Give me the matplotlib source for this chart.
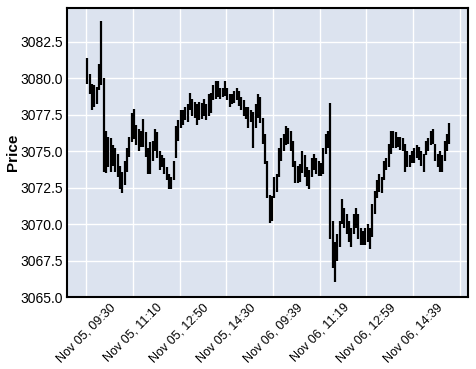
import numpy as np
import matplotlib
matplotlib.use('Agg')
import matplotlib.pyplot as plt

# 5-minute bars (high / low), Nov 05 09:30 -> Nov 06 ~16:00
highs = [
    3081.4, 3080.3, 3079.6, 3079.5, 3079.4, 3081.0, 3083.9, 3080.0, 3076.4, 3076.0,
    3075.9, 3075.4, 3075.2, 3074.8, 3074.0, 3073.6, 3074.3, 3075.2, 3076.0, 3077.6,
    3077.9, 3076.8, 3076.5, 3076.4, 3077.2, 3076.3, 3075.2, 3075.6, 3075.7, 3076.5,
    3076.3, 3075.0, 3074.7, 3074.5, 3073.9, 3073.4, 3073.2, 3074.3, 3076.7, 3077.1,
    3077.8, 3077.8, 3078.0, 3078.2, 3079.0, 3078.6, 3078.4, 3078.2, 3078.4, 3078.3,
    3078.6, 3078.2, 3078.9, 3079.0, 3079.5, 3079.8, 3079.8, 3079.3, 3079.3, 3079.8,
    3079.3, 3078.9, 3078.9, 3079.1, 3079.3, 3079.1, 3078.7, 3078.5, 3078.0, 3078.0,
    3077.8, 3077.7, 3078.2, 3078.9, 3078.7, 3077.3, 3076.2, 3074.3, 3072.0, 3071.9,
    3073.2, 3073.4, 3075.2, 3075.9, 3076.2, 3076.7, 3076.6, 3076.4, 3075.7, 3074.3,
    3074.0, 3074.1, 3075.0, 3074.7, 3073.9, 3073.7, 3074.5, 3074.8, 3074.5, 3074.3,
    3074.2, 3075.2, 3076.2, 3076.4, 3078.3, 3070.2, 3068.8, 3069.3, 3070.2, 3071.7,
    3071.1, 3070.7, 3070.2, 3069.7, 3070.7, 3071.1, 3070.7, 3069.7, 3069.5, 3069.7,
    3070.0, 3069.7, 3071.4, 3072.3, 3073.0, 3073.4, 3073.2, 3074.3, 3074.5, 3075.5,
    3076.4, 3076.4, 3076.3, 3076.0, 3076.0, 3075.9, 3075.5, 3075.0, 3074.7, 3075.0,
    3075.2, 3075.4, 3075.3, 3075.0, 3074.8, 3075.7, 3075.9, 3076.4, 3076.5, 3075.5,
    3074.8, 3075.0, 3074.7, 3075.7, 3076.2, 3076.9,
]
lows = [
    3079.6, 3078.9, 3077.8, 3078.0, 3078.2, 3079.2, 3079.5, 3073.6, 3073.5, 3073.9,
    3073.6, 3074.0, 3073.6, 3073.2, 3072.4, 3072.1, 3072.7, 3073.6, 3074.6, 3075.6,
    3075.8, 3075.4, 3075.0, 3075.3, 3075.3, 3074.6, 3073.4, 3073.4, 3074.3, 3075.0,
    3074.5, 3073.7, 3073.9, 3073.4, 3073.0, 3072.4, 3072.4, 3073.0, 3074.5, 3075.7,
    3076.6, 3076.8, 3077.1, 3077.0, 3077.8, 3077.4, 3077.3, 3076.8, 3077.1, 3077.2,
    3077.4, 3077.1, 3077.4, 3077.6, 3078.5, 3078.6, 3078.7, 3078.6, 3078.7, 3078.8,
    3078.5, 3078.0, 3078.2, 3078.3, 3078.5, 3078.1, 3077.8, 3077.4, 3077.2, 3076.6,
    3077.0, 3075.2, 3076.6, 3077.3, 3076.9, 3075.5, 3074.1, 3071.8, 3070.1, 3070.2,
    3071.8, 3072.2, 3073.2, 3074.3, 3075.0, 3075.4, 3075.5, 3075.0, 3073.9, 3072.8,
    3072.8, 3072.9, 3073.5, 3073.2, 3072.6, 3072.4, 3073.2, 3073.7, 3073.4, 3073.3,
    3073.3, 3073.4, 3074.8, 3075.2, 3069.0, 3067.0, 3066.0, 3067.5, 3068.4, 3070.0,
    3069.7, 3069.3, 3068.8, 3068.4, 3069.3, 3069.7, 3069.0, 3068.6, 3068.6, 3068.6,
    3068.8, 3068.3, 3069.1, 3070.7, 3071.8, 3072.2, 3072.1, 3073.0, 3073.7, 3073.9,
    3074.8, 3075.2, 3075.2, 3075.3, 3075.1, 3075.0, 3073.6, 3073.9, 3073.9, 3074.2,
    3074.2, 3074.5, 3074.4, 3074.0, 3073.6, 3074.7, 3075.0, 3075.4, 3075.5, 3074.3,
    3073.9, 3073.6, 3073.6, 3074.3, 3075.0, 3075.5,
]
bar_minutes = 5

tick_pos = [0, 100, 200, 300, 400, 500, 600, 700, 800]
tick_labels = ['Nov 05, 09:30', 'Nov 05, 11:10', 'Nov 05, 12:50', 'Nov 05, 14:30',
               'Nov 06, 09:39', 'Nov 06, 11:19', 'Nov 06, 12:59', 'Nov 06, 14:39', '']
y_ticks = [3065.0, 3067.5, 3070.0, 3072.5, 3075.0, 3077.5, 3080.0, 3082.5]

plt.rcParams['font.family'] = ['Liberation Sans', 'DejaVu Sans']

fig = plt.figure(figsize=(4.76, 3.69), dpi=100)
ax = fig.add_axes([0.141, 0.195, 0.842, 0.783])
ax.set_facecolor('#DCE3EF')

x = np.arange(len(highs)) * bar_minutes + bar_minutes / 2
ax.vlines(x, lows, highs, colors='black', linewidth=1.6, zorder=3)

ax.set_xlim(-40.6, 817)
ax.set_ylim(3065.0, 3084.8)
ax.set_xticks(tick_pos)
ax.set_xticklabels(tick_labels, rotation=45, ha='center', fontsize=9)
ax.set_yticks(y_ticks)
ax.set_yticklabels([f'{v:.1f}' for v in y_ticks], fontsize=10)
ax.tick_params(length=0, pad=3)
ax.grid(True, color='white', linewidth=1, zorder=0)
ax.set_axisbelow(True)
for s in ax.spines.values():
    s.set_color('black')
    s.set_linewidth(1.5)
ax.set_ylabel('Price', fontsize=11, fontweight='bold', labelpad=0)

plt.savefig('out.png', dpi=100)
plt.close()
